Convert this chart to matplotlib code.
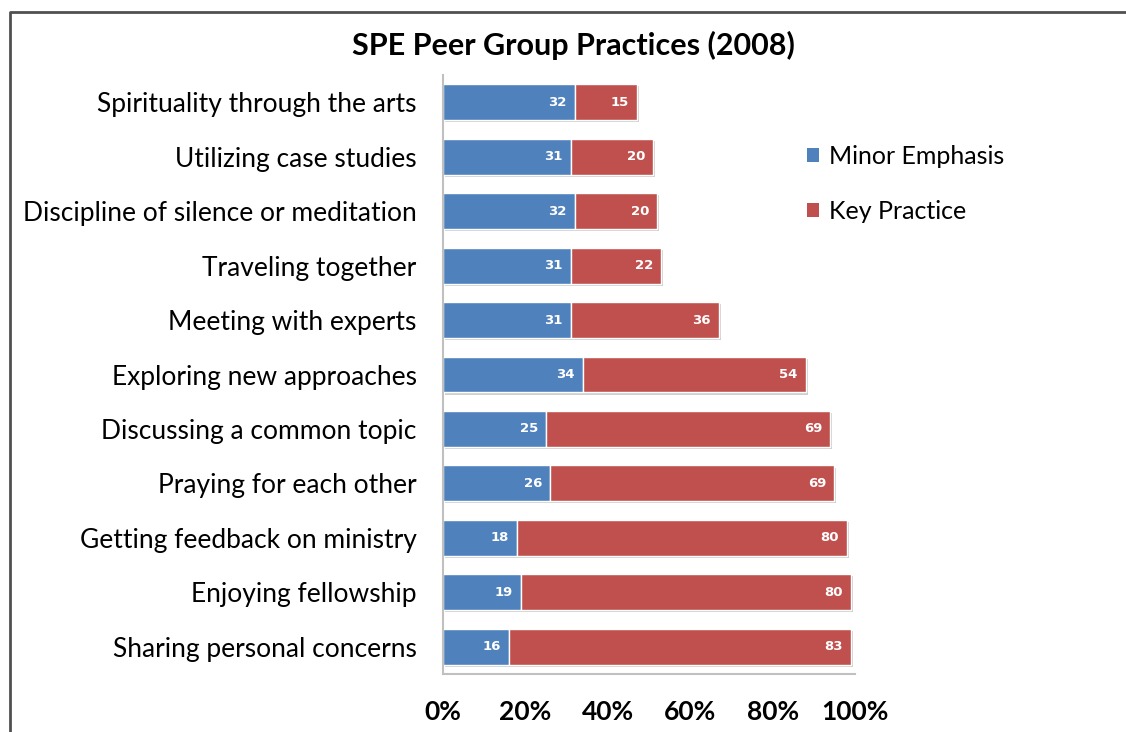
import matplotlib

matplotlib.use("Agg")

import matplotlib.pyplot as plt
import matplotlib.patheffects as pe
import numpy as np
from matplotlib.lines import Line2D
from matplotlib.patches import Patch

plt.rcParams["font.family"] = ["Lato", "DejaVu Sans"]

categories = [
    "Spirituality through the arts",
    "Utilizing case studies",
    "Discipline of silence or meditation",
    "Traveling together",
    "Meeting with experts",
    "Exploring new approaches",
    "Discussing a common topic",
    "Praying for each other",
    "Getting feedback on ministry",
    "Enjoying fellowship",
    "Sharing personal concerns",
]
minor_emphasis = [32, 31, 32, 31, 31, 34, 25, 26, 18, 19, 16]
key_practice = [15, 20, 20, 22, 36, 54, 69, 69, 80, 80, 83]
x_ticks = [0, 20, 40, 60, 80, 100]
x_tick_labels = ["0%", "20%", "40%", "60%", "80%", "100%"]

BLUE = "#4F81BD"
RED = "#C0504D"

fig = plt.figure(figsize=(11.26, 7.32), dpi=100)
ax = fig.add_axes([443 / 1126, 1 - 674 / 732, 412 / 1126, 599 / 732])

y = np.arange(len(categories))
shadow = [pe.SimplePatchShadow(offset=(1.5, -1.5), shadow_rgbFace="#b0b0b0", alpha=0.6), pe.Normal()]
b1 = ax.barh(y, minor_emphasis, height=0.66, color=BLUE, edgecolor="white", linewidth=1.0)
b2 = ax.barh(y, key_practice, left=minor_emphasis, height=0.66, color=RED, edgecolor="white", linewidth=1.0)
for bar in list(b1) + list(b2):
    bar.set_path_effects(shadow)

for i in range(len(categories)):
    ax.text(minor_emphasis[i] - 2.0, y[i], str(minor_emphasis[i]), ha="right", va="center",
            color="white", fontsize=9.5, fontweight="bold", family="DejaVu Sans")
    ax.text(minor_emphasis[i] + key_practice[i] - 2.0, y[i], str(key_practice[i]), ha="right", va="center",
            color="white", fontsize=9.5, fontweight="bold", family="DejaVu Sans")

ax.set_xlim(0, 100)
ax.set_ylim(len(categories) - 0.5, -0.5)
ax.set_yticks(y)
ax.set_yticklabels(categories, fontsize=19)
ax.set_xticks(x_ticks)
ax.set_xticklabels(x_tick_labels, fontsize=19, fontweight="bold")
ax.tick_params(axis="y", length=0, pad=19)
ax.tick_params(axis="x", length=0, pad=19)
for side in ["top", "right"]:
    ax.spines[side].set_visible(False)
for side in ["left", "bottom"]:
    ax.spines[side].set_color("#c0c0c0")
    ax.spines[side].set_linewidth(1.5)

handles = [Patch(facecolor=BLUE, label="Minor Emphasis"), Patch(facecolor=RED, label="Key Practice")]
fig.legend(handles=handles, loc="upper left", bbox_to_anchor=(784 / 1126, 1 - 122 / 732),
           frameon=False, fontsize=18, handlelength=0.5, handleheight=0.5, handletextpad=0.4,
           labelspacing=1.3)

fig.text(573 / 1126, 1 - 45 / 732, "SPE Peer Group Practices (2008)", ha="center", va="center",
         fontsize=22, fontweight="bold")

# outer frame (top and left edges only)
fig.add_artist(Line2D([10 / 1126, 10 / 1126, 1.0], [0.0, 1 - 12 / 732, 1 - 12 / 732],
                      color="#505050", linewidth=2.0, transform=fig.transFigure))

fig.savefig("out.png", dpi=100)
